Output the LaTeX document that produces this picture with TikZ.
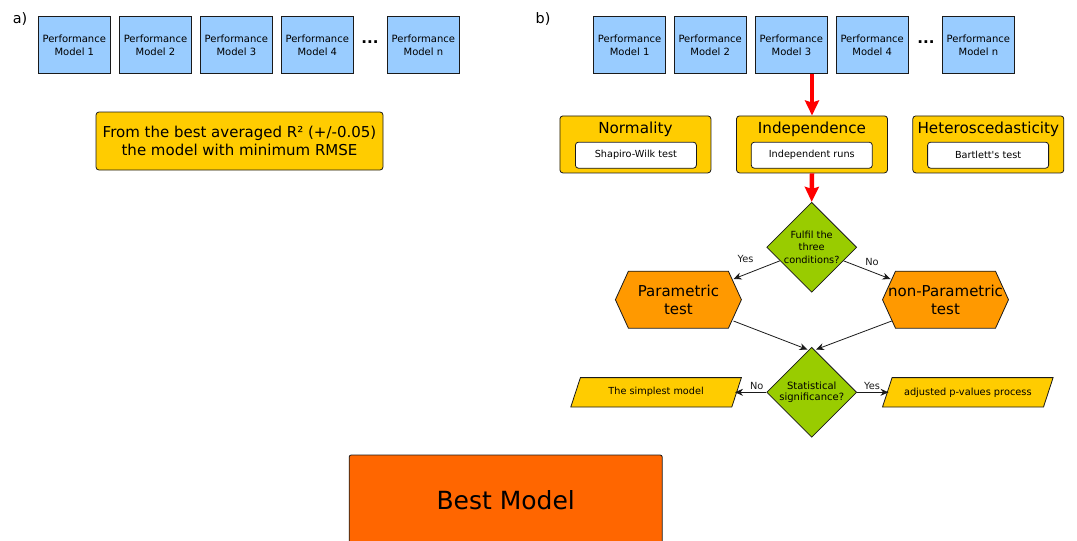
\documentclass[tikz,border=0pt]{standalone}
\usepackage{fontspec}
\setmainfont{DejaVu Sans}
\usetikzlibrary{shapes.geometric,arrows.meta}
\definecolor{pblue}{HTML}{99CCFF}
\definecolor{pyel}{HTML}{FFCC00}
\definecolor{pgreen}{HTML}{99CC00}
\definecolor{porange}{HTML}{FF9900}
\definecolor{pbest}{HTML}{FF6600}
\definecolor{pred}{HTML}{FF0000}
\definecolor{pline}{HTML}{1A1A1A}
\begin{document}
\begin{tikzpicture}[x=1pt,y=-1pt,
  perf/.style={draw=pline, fill=pblue, line width=0.8pt, minimum width=72pt, minimum height=57.5pt, inner sep=0pt, align=center, font=\fontsize{10}{12.7}\selectfont},
  dots/.style={font=\fontsize{15}{15}\selectfont\bfseries, inner sep=0pt},
  lbl/.style={font=\fontsize{14.4}{14.4}\selectfont, inner sep=0pt},
  condbox/.style={draw=pline, fill=pyel, line width=0.8pt, rounded corners=3pt, minimum width=151pt, minimum height=57pt, inner sep=0pt},
  condtitle/.style={font=\fontsize{15.2}{15.2}\selectfont, inner sep=0pt},
  testbox/.style={draw=pline, fill=white, line width=0.8pt, rounded corners=3pt, minimum width=121pt, minimum height=26pt, inner sep=0pt, font=\fontsize{9.7}{9.7}\selectfont},
  decision/.style={diamond, aspect=1, draw=pline, fill=pgreen, line width=0.8pt, minimum width=90pt, minimum height=90pt, inner sep=0pt, align=center},
  shp/.style={draw=pline, line width=0.8pt},
  txt/.style={inner sep=0pt, align=center},
  arr/.style={draw=pline, line width=0.8pt, -{Stealth[length=8pt,width=7pt]}},
  redarr/.style={draw=pred, line width=4.5pt, -{Stealth[length=15pt,width=14pt,inset=2pt]}},
  yn/.style={font=\fontsize{9.8}{9.8}\selectfont, inner sep=0pt, text=pline}]
\useasboundingbox (0,0) rectangle (1077,541);
\clip (0,0) rectangle (1077,541);

% ---------- a) ----------
\node[lbl] (la) at (20,19) {a)};
\node[perf] (a1) at (74.3,45) {Performance\\Model 1};
\node[perf] (a2) at (155.5,45) {Performance\\Model 2};
\node[perf] (a3) at (236.4,45) {Performance\\Model 3};
\node[perf] (a4) at (317.3,45) {Performance\\Model 4};
\node[dots] (adots) at (370,42) {...};
\node[perf] (an) at (423.4,45) {Performance\\Model n};
\node[draw=pline, fill=pyel, line width=0.8pt, rounded corners=3pt, minimum width=287pt, minimum height=58pt, inner sep=0pt, align=center, font=\fontsize{15}{18}\selectfont] (crit) at (239.5,141) {From the best averaged R² (+/-0.05)\\the model with minimum RMSE};

% ---------- b) ----------
\node[lbl] (lb) at (543,19) {b)};
\node[perf] (b1) at (629.6,45) {Performance\\Model 1};
\node[perf] (b2) at (710.2,45) {Performance\\Model 2};
\node[perf] (b3) at (791.4,45) {Performance\\Model 3};
\node[perf] (b4) at (872.2,45) {Performance\\Model 4};
\node[dots] (bdots) at (926,42) {...};
\node[perf] (bn) at (978.4,45) {Performance\\Model n};

\node[condbox] (norm) at (635.4,144.4) {};
\node[condtitle] (normt) at (635.4,129.5) {Normality};
\node[testbox] (sw) at (635.9,155.2) {Shapiro-Wilk test};

\node[condbox] (ind) at (812,144.4) {};
\node[condtitle] (indt) at (812,129.5) {Independence};
\node[testbox] (ir) at (811.8,155.2) {Independent runs};

\node[condbox] (het) at (988.3,144.4) {};
\node[condtitle] (hett) at (988.3,129.5) {Heteroscedasticity};
\node[testbox] (bt) at (988.1,155.2) {Bartlett\textquotesingle s test};

\draw[redarr] (b3.south -| ind.north) -- (ind.north);

\node[decision, font=\fontsize{9.8}{12.7}\selectfont] (d1) at (811.7,247.3) {Fulfil the\\three\\conditions?};
\draw[redarr] (ind.south) -- (d1.north);

% hexagons
\draw[shp, fill=porange, shift={(678.4,299.7)}] (-63,0) -- (-50,-28.5) -- (50,-28.5) -- (63,0) -- (50,28.5) -- (-50,28.5) -- cycle;
\node[txt, font=\fontsize{15}{18}\selectfont] (par) at (678.4,300) {Parametric\\test};
\draw[shp, fill=porange, shift={(945.5,299.7)}] (-63,0) -- (-50,-28.5) -- (50,-28.5) -- (63,0) -- (50,28.5) -- (-50,28.5) -- cycle;
\node[txt, font=\fontsize{15}{18}\selectfont] (npar) at (945.5,300) {non-Parametric\\test};

\coordinate (parin) at (733.5,279);
\coordinate (nparin) at (890.5,279);
\coordinate (parout) at (733.5,321);
\coordinate (nparout) at (891.7,321);

\draw[arr] (d1.203) -- (parin);
\draw[arr] (d1.337) -- (nparin);
\node[yn] (yes1) at (745.5,259) {Yes};
\node[yn] (no1) at (872,262) {No};

\node[decision, font=\fontsize{10}{11.6}\selectfont] (d2) at (811.7,392.3) {Statistical\\significance?};
\coordinate (d2l) at (807.5,349.5);
\coordinate (d2r) at (816,349.5);
\draw[arr] (parout) -- (d2l);
\draw[arr] (nparout) -- (d2r);

% parallelograms
\draw[shp, fill=pyel, shift={(656.1,392.3)}] (-75.7,-14.7) -- (85.3,-14.7) -- (75.7,14.7) -- (-85.3,14.7) -- cycle;
\node[txt, font=\fontsize{9.7}{9.7}\selectfont] (simp) at (656.1,392.3) {The simplest model};
\draw[shp, fill=pyel, shift={(967.8,392.3)}] (-75.7,-14.7) -- (85.3,-14.7) -- (75.7,14.7) -- (-85.3,14.7) -- cycle;
\node[txt, font=\fontsize{9.8}{9.8}\selectfont] (adj) at (967.8,392.3) {adjusted p-values process};

\coordinate (simpin) at (735,392.3);
\coordinate (adjin) at (888.5,392.3);
\draw[arr] (d2.west) -- (simpin);
\draw[arr] (d2.east) -- (adjin);
\node[yn] (no2) at (756.8,386) {No};
\node[yn] (yes2) at (872,386) {Yes};

% ---------- best model ----------
\node[draw=pline, fill=pbest, line width=0.8pt, rounded corners=2pt, minimum width=313pt, minimum height=90pt, inner sep=0pt, font=\fontsize{25}{25}\selectfont] (best) at (505.7,500) {Best Model};
\end{tikzpicture}
\end{document}
